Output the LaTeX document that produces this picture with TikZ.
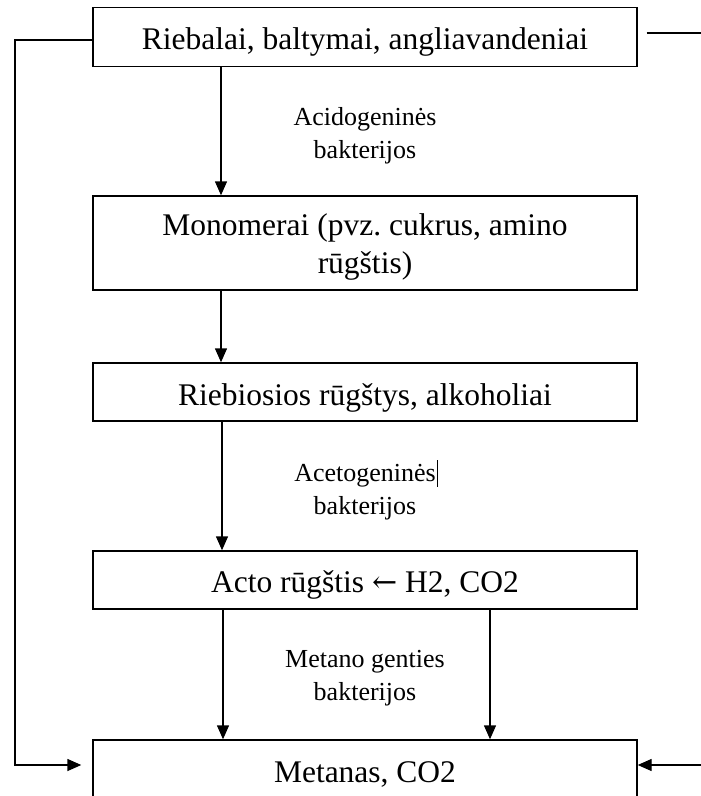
\documentclass[tikz,border=0pt]{standalone}
\usepackage{fontspec}
\setmainfont{Liberation Serif}
\newfontfamily\arrfont{DejaVu Serif}
\usetikzlibrary{arrows.meta}
\frenchspacing
\begin{document}
\begin{tikzpicture}[x=1pt,y=-1pt,
  box/.style={draw, line width=1.4pt, minimum width=544pt, inner sep=0pt,
    font=\fontsize{31.5}{38}\selectfont, align=center},
  lab/.style={font=\fontsize{26}{33}\selectfont, align=center, inner sep=0pt},
  conn/.style={line width=1.4pt},
  arr/.style={conn, -{Triangle[length=14pt,width=12pt]}}]
\useasboundingbox (0,0) rectangle (701,796);
\clip (0,0) rectangle (701,796);
% boxes
\node[box, minimum height=58.5pt, text height=30pt, text depth=6pt] (b1) at (365,37) {Riebalai, baltymai, angliavandeniai};
\node[box, minimum height=94pt] (b2) at (365,243) {\rule{0pt}{30pt}Monomerai (pvz. cukrus, amino\\ rūgštis)};
\node[box, minimum height=58pt, text height=30pt, text depth=4pt] (b3) at (365,392) {Riebiosios rūgštys, alkoholiai};
\node[box, minimum height=58pt, text height=30pt, text depth=6pt] (b4) at (365,580) {Acto rūgštis {\arrfont\fontsize{30}{36}\selectfont ←} H2, CO2};
\node[box, minimum height=62pt, text height=30pt, text depth=8pt] (b5) at (365,771) {Metanas, CO2};
% labels
\node[lab] (l1) at (365,136) {Acidogeninės\\bakterijos};
\node[lab] (l2) at (365,490) {Acetogeninės\rlap{\hspace{1pt}\rule[-5pt]{1pt}{27pt}}\\bakterijos};
\node[lab] (l3) at (365,678) {Metano genties\\bakterijos};
% helper coordinates
\coordinate (xa) at (221,0);
\coordinate (xb) at (222,0);
\coordinate (xc) at (223,0);
\coordinate (xd) at (490,0);
\coordinate (lx) at (15,765);
\coordinate (rt) at (701,33);
\coordinate (rb) at (701,765);
% vertical arrows
\draw[arr] (b1.south -| xa) -- (b2.north -| xa);
\draw[arr] (b2.south -| xa) -- (b3.north -| xa);
\draw[arr] (b3.south -| xb) -- (b4.north -| xb);
\draw[arr] (b4.south -| xc) -- (b5.north -| xc);
\draw[arr] (b4.south -| xd) -- (b5.north -| xd);
% side connectors
\draw[arr] ([yshift=-3pt]b1.west) -| (lx) -- ([xshift=-11pt]b5.west |- lx);
\draw[conn] ([xshift=9pt]b1.east |- rt) -- (rt);
\draw[arr] (rb) -- (b5.east |- rb);
\end{tikzpicture}
\end{document}
